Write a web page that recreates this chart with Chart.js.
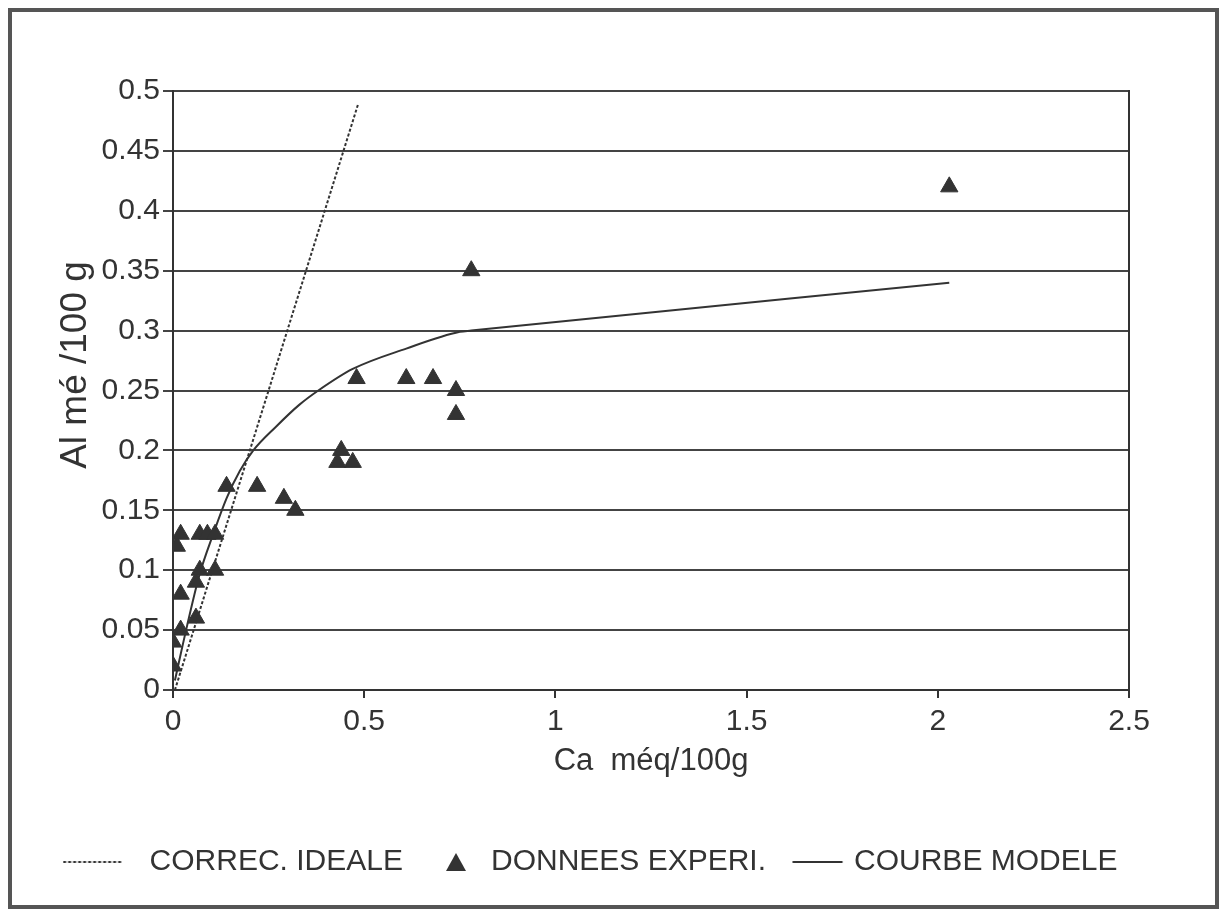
<!DOCTYPE html>
<html>
<head>
<meta charset="utf-8">
<script src="https://cdn.jsdelivr.net/npm/chart.js@4.4.1/dist/chart.umd.min.js"></script>
<style>
  html, body { margin: 0; padding: 0; background: #fff; }
  #wrap { position: relative; width: 1222px; height: 919px; }
  #frame { position: absolute; left: 8px; top: 8px; width: 1211px; height: 901px;
           box-sizing: border-box; border: 4px solid #555; pointer-events: none; }
  canvas { position: absolute; left: 0; top: 0; }
</style>
</head>
<body>
<div id="wrap">
  <canvas id="c" width="1222" height="919"></canvas>
  <div id="frame"></div>
</div>
<script>
// ---- data ----
const seriesNames = ['CORREC. IDEALE', 'DONNEES EXPERI.', 'COURBE MODELE'];

const idealCa = [0.005, 0.485];
const idealAl = [0.0, 0.49];

const expCa = [0, 0, 0.02, 0.02, 0.06, 0.06, 0.07, 0.11, 0.01, 0.02, 0.07, 0.09, 0.11,
               0.14, 0.22, 0.29, 0.32, 0.43, 0.44, 0.47, 0.48, 0.61, 0.68, 0.74, 0.74, 0.78, 2.03];
const expAl = [0.02, 0.04, 0.05, 0.08, 0.06, 0.09, 0.10, 0.10, 0.12, 0.13, 0.13, 0.13, 0.13,
               0.17, 0.17, 0.16, 0.15, 0.19, 0.20, 0.19, 0.26, 0.26, 0.26, 0.25, 0.23, 0.35, 0.42];

const modelCa = [0.005, 0.036, 0.07, 0.105, 0.14, 0.175, 0.21, 0.27, 0.33, 0.38, 0.47, 0.61, 0.75, 0.78, 2.03];
const modelAl = [0.008, 0.0525, 0.097, 0.13, 0.16, 0.183, 0.2, 0.22, 0.238, 0.25, 0.268, 0.285, 0.299, 0.30, 0.34];

const xTicks = [0, 0.5, 1, 1.5, 2, 2.5];
const yTicks = [0, 0.05, 0.1, 0.15, 0.2, 0.25, 0.3, 0.35, 0.4, 0.45, 0.5];

const xTitle = 'Ca  méq/100g';
const yTitle = 'Al mé /100 g';

// ---- helpers ----
const toPts = (xs, ys) => xs.map((x, i) => ({x: x, y: ys[i]}));
const fmt = v => String(Math.round(v * 100) / 100);
const INK = '#333';
const sans = "'Liberation Sans', Arial, sans-serif";

// legend sample images (drawn centred on the legend box centre)
function lineImg(dashed, w, x0, x1) {
  const c = document.createElement('canvas');
  c.width = w; c.height = 10;
  const g = c.getContext('2d');
  g.strokeStyle = INK;
  g.lineWidth = 2;
  if (dashed) g.setLineDash([3, 2]);
  g.beginPath(); g.moveTo(x0, 5); g.lineTo(x1, 5); g.stroke();
  return c;
}
function triImg() {
  const c = document.createElement('canvas');
  c.width = 32; c.height = 20;
  const g = c.getContext('2d');
  g.fillStyle = INK;
  g.beginPath(); g.moveTo(11, 1); g.lineTo(21, 19); g.lineTo(1, 19); g.closePath(); g.fill();
  return c;
}
const legendImgs = [lineImg(true, 114, 0.5, 60.5), triImg(), lineImg(false, 64, 0.5, 50.5)];

// y-axis title, placed where the reference has it (slightly above the axis centre)
const yTitlePlugin = {
  id: 'yTitleText',
  afterDraw(chart) {
    const ctx = chart.ctx;
    ctx.save();
    ctx.translate(76, 365);
    ctx.rotate(-Math.PI / 2);
    ctx.fillStyle = INK;
    ctx.font = "37px " + sans;
    ctx.textAlign = 'center';
    ctx.textBaseline = 'middle';
    ctx.fillText(yTitle, 0, 0);
    ctx.restore();
  }
};

new Chart(document.getElementById('c'), {
  type: 'scatter',
  data: {
    datasets: [
      {
        label: seriesNames[0],
        data: toPts(idealCa, idealAl),
        showLine: true,
        borderColor: INK,
        backgroundColor: INK,
        borderWidth: 2,
        borderDash: [3, 2],
        pointRadius: 0
      },
      {
        label: seriesNames[1],
        data: toPts(expCa, expAl),
        showLine: false,
        pointStyle: 'triangle',
        pointRadius: 10,
        pointHoverRadius: 10,
        backgroundColor: INK,
        borderColor: INK,
        borderWidth: 1
      },
      {
        label: seriesNames[2],
        data: toPts(modelCa, modelAl),
        showLine: true,
        borderColor: INK,
        backgroundColor: INK,
        borderWidth: 2,
        pointRadius: 0,
        cubicInterpolationMode: 'monotone'
      }
    ]
  },
  plugins: [yTitlePlugin],
  options: {
    responsive: false,
    animation: false,
    devicePixelRatio: 1,
    layout: { padding: { top: 91, left: 0, right: 0, bottom: 32 } },
    plugins: {
      tooltip: { enabled: false },
      legend: {
        position: 'bottom',
        labels: {
          usePointStyle: true,
          boxWidth: 40,
          boxHeight: 26,
          padding: 43,
          color: INK,
          font: { family: sans, size: 30 },
          generateLabels(chart) {
            const items = Chart.defaults.plugins.legend.labels.generateLabels(chart);
            items.forEach((it, i) => { it.pointStyle = legendImgs[i]; });
            return items;
          }
        }
      }
    },
    scales: {
      x: {
        type: 'linear',
        min: 0, max: 2.5,
        afterBuildTicks(s) { s.ticks = xTicks.map(v => ({value: v})); },
        afterFit(s) { s.height = 114; },
        grid: { drawOnChartArea: false, drawTicks: true, tickLength: 8, color: INK, lineWidth: 2 },
        border: { display: true, color: INK, width: 2 },
        ticks: { color: INK, padding: 6, maxRotation: 0, font: { family: sans, size: 30 },
                 callback: v => fmt(v) },
        title: { display: true, text: xTitle, color: INK, padding: { top: 0, bottom: 24 },
                 font: { family: sans, size: 31 } }
      },
      y: {
        type: 'linear',
        min: 0, max: 0.5,
        afterBuildTicks(s) { s.ticks = yTicks.map(v => ({value: v})); },
        afterFit(s) { s.width = 173; },
        grid: { drawOnChartArea: true, drawTicks: true, tickLength: 10, color: '#444', lineWidth: 2 },
        border: { display: true, color: INK, width: 2 },
        ticks: { color: INK, padding: 3, font: { family: sans, size: 30 }, callback: v => fmt(v) },
        title: { display: false, text: yTitle }
      },
      yr: {
        type: 'linear',
        position: 'right',
        min: 0, max: 0.5,
        afterFit(s) { s.width = 93; },
        grid: { drawOnChartArea: false, drawTicks: false },
        border: { display: true, color: INK, width: 2 },
        ticks: { display: false }
      }
    }
  }
});
</script>
</body>
</html>
